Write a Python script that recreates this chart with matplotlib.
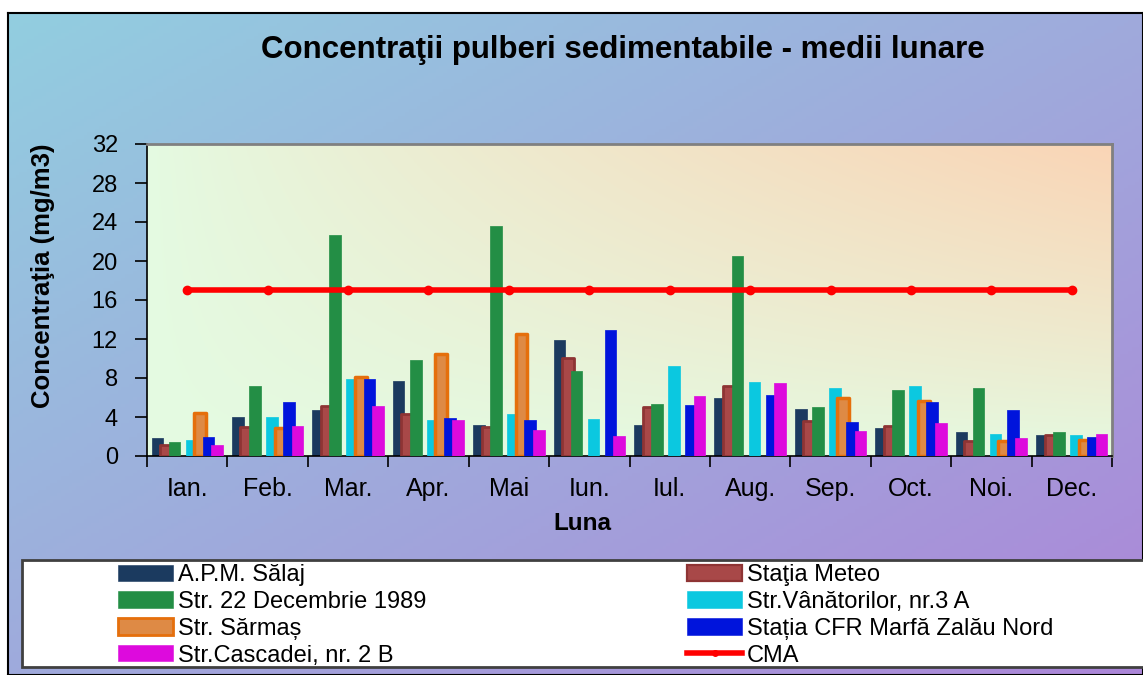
import numpy as np
import matplotlib
matplotlib.use("Agg")
import matplotlib.pyplot as plt
from matplotlib.patches import Rectangle, Patch
from matplotlib.lines import Line2D

plt.rcParams['font.family'] = ['Liberation Sans', 'DejaVu Sans']

# ---------------- data ----------------
months = ["Ian.", "Feb.", "Mar.", "Apr.", "Mai", "Iun.", "Iul.", "Aug.", "Sep.", "Oct.", "Noi.", "Dec."]

apm_salaj = [1.8, 4.0, 4.7, 7.7, 3.2, 11.9, 3.2, 5.9, 4.8, 2.9, 2.5, 2.2]
statia_meteo = [1.1, 3.0, 5.1, 4.3, 3.0, 10.1, 5.0, 7.2, 3.6, 3.1, 1.5, 2.2]
str_22_dec = [1.4, 7.2, 22.7, 9.8, 23.6, 8.7, 5.3, 20.5, 5.0, 6.8, 7.0, 2.5]
str_vanatorilor = [1.6, 4.0, 7.9, 3.7, 4.3, 3.8, 9.2, 7.6, 7.0, 7.2, 2.3, 2.2]
str_sarmas = [4.4, 2.9, 8.1, 10.5, 12.5, None, None, None, 6.0, 5.6, 1.5, 1.6]
statia_cfr = [2.0, 5.5, 7.9, 3.9, 3.7, 12.9, 5.2, 6.3, 3.5, 5.5, 4.7, 2.0]
str_cascadei = [1.1, 3.1, 5.1, 3.7, 2.7, 2.1, 6.2, 7.5, 2.6, 3.4, 1.8, 2.3]
cma = [17, 17, 17, 17, 17, 17, 17, 17, 17, 17, 17, 17]

series_labels = ["A.P.M. Sălaj", "Staţia Meteo", "Str. 22 Decembrie 1989",
                 "Str.Vânătorilor, nr.3 A", "Str. Sărmaș", "Stația CFR Marfă Zalău Nord",
                 "Str.Cascadei, nr. 2 B"]
cma_label = "CMA"
yticks = [0, 4, 8, 12, 16, 20, 24, 28, 32]

title = "Concentraţii pulberi sedimentabile - medii lunare"
ylabel = "Concentraţia (mg/m3)"
xlabel = "Luna"

# ---------------- styles ----------------
series_values = [apm_salaj, statia_meteo, str_22_dec, str_vanatorilor, str_sarmas, statia_cfr, str_cascadei]
faces = ["#1B3A5F", "#A84848", "#238E45", "#0BC8E0", "#DE8A45", "#0014DC", "#DD0ADD"]
edges = ["#1B3A5F", "#8E3434", "#238E45", "#0BC8E0", "#E56F0C", "#0014DC", "#DD0ADD"]
lws = [0.5, 2.0, 0.5, 0.5, 2.5, 0.5, 0.5]
slots = [0, 1, 2, 4, 5, 6, 7]

W, H = 1143, 675
fig = plt.figure(figsize=(W / 100, H / 100), dpi=100)
fig.patch.set_facecolor('white')


def fx(px):
    return px / W


def fy(py):
    return 1 - py / H


# outer gradient background
bg = fig.add_axes([fx(8), 0, 1 - fx(8), fy(13)], zorder=-10)
ny, nx = 200, 300
xx, yy = np.meshgrid(np.linspace(0, 1, nx), np.linspace(1, 0, ny))
t = (xx + (1 - yy)) / 2
c0 = np.array([146, 206, 224]) / 255
c1 = np.array([172, 134, 216]) / 255
img = c0 + (c1 - c0) * t[..., None]
bg.imshow(img, extent=(0, 1, 0, 1), aspect='auto', origin='upper')
bg.set_xlim(0, 1)
bg.set_ylim(0, 1)
bg.set_xticks([])
bg.set_yticks([])
for s in bg.spines.values():
    s.set_color('black')
    s.set_linewidth(1.5)

# main axes
ax = fig.add_axes([fx(147), fy(456), fx(1112 - 147), (456 - 144) / H])
x = np.arange(len(months))

# plot-area gradient
xx2, yy2 = np.meshgrid(np.linspace(0, 1, nx), np.linspace(1, 0, ny))
t2 = np.clip(xx2 * yy2, 0, 1) ** 0.8
g0 = np.array([228, 251, 226]) / 255
g1 = np.array([250, 213, 182]) / 255
img2 = g0 + (g1 - g0) * t2[..., None]
ax.imshow(img2, extent=(-0.5, 11.5, 0, 32), aspect='auto', origin='upper', zorder=0)

spacing = 0.106
width = 0.145
handles = []
for i, vals in enumerate(series_values):
    v = np.array([np.nan if a is None else a for a in vals], dtype=float)
    off = (slots[i] - 3.5) * spacing
    ax.bar(x + off, v, width, color=faces[i], edgecolor=edges[i], linewidth=lws[i],
           zorder=2 + i, joinstyle='round')
    handles.append(Patch(facecolor=faces[i], edgecolor=edges[i], linewidth=lws[i] * 0.8))

ax.plot(x, cma, color='#FF0000', lw=4, marker='o', ms=6, zorder=20)
cma_handle = Line2D([], [], color='#FF0000', lw=4, marker='o', ms=4)

ax.set_xlim(-0.5, 11.5)
ax.set_ylim(0, 32)
ax.set_xticks(x)
ax.set_xticklabels(months)
ax.set_xticks(np.arange(-0.5, 12, 1), minor=True)
ax.tick_params(axis='x', which='major', length=0, pad=15, labelsize=18)
ax.tick_params(axis='x', which='minor', length=8, width=1.2, direction='out', color='black')
ax.set_yticks(yticks)
ax.tick_params(axis='y', length=9, width=1.2, direction='out', pad=12, labelsize=17)
for side in ['top', 'right']:
    ax.spines[side].set_color('#808080')
    ax.spines[side].set_linewidth(2)
for side in ['left', 'bottom']:
    ax.spines[side].set_color('black')
    ax.spines[side].set_linewidth(1.2)

fig.text(fx(623), fy(50), title, ha='center', va='center', fontsize=22.5, fontweight='bold')
fig.text(fx(43), fy(276), ylabel, ha='center', va='center', rotation=90, fontsize=18.5,
         fontweight='bold')
fig.text(fx(582), fy(524), xlabel, ha='center', va='center', fontsize=17.5, fontweight='bold')

# legend box
fig.patches.append(Rectangle((fx(22), fy(667)), 1 - fx(22) + 0.02, (667 - 560) / H,
                             transform=fig.transFigure, facecolor='white', edgecolor='#404040',
                             lw=2, zorder=1))

all_handles = handles + [cma_handle]
all_labels = series_labels + [cma_label]
col1 = [0, 2, 4, 6]
col2 = [1, 3, 5, 7]
legkw = dict(loc='upper left', frameon=False, fontsize=17, handlelength=2.35,
             handleheight=0.68, handletextpad=0.2, labelspacing=0.205, borderpad=0,
             borderaxespad=0, numpoints=1)
fig.legend([all_handles[i] for i in col1], [all_labels[i] for i in col1],
           bbox_to_anchor=(fx(118), fy(564)), **legkw)
fig.legend([all_handles[i] for i in col2], [all_labels[i] for i in col2],
           bbox_to_anchor=(fx(687), fy(564)), **legkw)

fig.savefig("out.png", dpi=100)
